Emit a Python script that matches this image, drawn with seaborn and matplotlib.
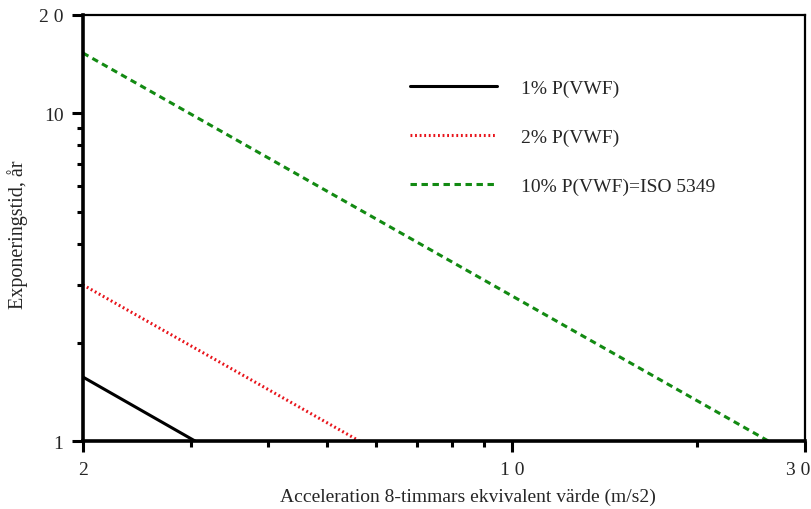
import seaborn as sns
import pandas as pd
import matplotlib.pyplot as plt
from matplotlib.ticker import FixedLocator, NullFormatter
from matplotlib.transforms import ScaledTranslation

# line end points
series = ['1% P(VWF)', '2% P(VWF)', '10% P(VWF)=ISO 5349']
x_1pct = [2.0, 3.05]
y_1pct = [1.57, 1.0]
x_2pct = [2.0, 5.65]
y_2pct = [3.0, 1.0]
x_10pct = [2.0, 26.2]
y_10pct = [15.3, 1.0]

x_ticks = [2, 10, 30]
x_ticklabels = ['2', '1 0', '3 0']
y_ticks = [1, 10, 20]
y_ticklabels = ['1', '10', '2 0']

df = pd.concat([
    pd.DataFrame({'acc': x_1pct, 'tid': y_1pct, 'serie': series[0]}),
    pd.DataFrame({'acc': x_2pct, 'tid': y_2pct, 'serie': series[1]}),
    pd.DataFrame({'acc': x_10pct, 'tid': y_10pct, 'serie': series[2]}),
])

sns.set_style('white')
plt.rcParams['font.family'] = ['Liberation Serif', 'DejaVu Serif']

fig = plt.figure(figsize=(8.12, 5.10), dpi=100)
ax = fig.add_axes([0.102, 0.133, 0.889, 0.836])

palette = {series[0]: 'black', series[1]: '#e8141b', series[2]: '#128a12'}
dashes = {series[0]: '', series[1]: (0.6, 0.9), series[2]: (2.1, 1.5)}
sns.lineplot(data=df, x='acc', y='tid', hue='serie', style='serie',
             palette=palette, dashes=dashes, linewidth=2.2, ax=ax, sort=False)

ax.set_xscale('log')
ax.set_yscale('log')
ax.set_xlim(2, 30)
ax.set_ylim(1, 20)

ax.xaxis.set_major_locator(FixedLocator(x_ticks))
ax.xaxis.set_minor_locator(FixedLocator([3, 4, 5, 6, 7, 8, 9, 20]))
ax.set_xticklabels(x_ticklabels)
ax.xaxis.set_minor_formatter(NullFormatter())
ax.yaxis.set_major_locator(FixedLocator(y_ticks))
ax.yaxis.set_minor_locator(FixedLocator([2, 3, 4, 5, 6, 7, 8, 9]))
ax.set_yticklabels(y_ticklabels)
ax.yaxis.set_minor_formatter(NullFormatter())

ax.tick_params(axis='both', which='major', direction='out', length=8, width=2.2,
               labelsize=14, color='black', pad=6, bottom=True, left=True)
ax.tick_params(axis='both', which='minor', direction='out', length=4, width=2.2,
               color='black', bottom=True, left=True)

# keep the last x label inside the figure
last = ax.get_xticklabels()[-1]
last.set_horizontalalignment('right')
last.set_transform(last.get_transform() + ScaledTranslation(4 / 72, 0, fig.dpi_scale_trans))

for side in ['left', 'bottom']:
    ax.spines[side].set_linewidth(2.6)
    ax.spines[side].set_color('black')
for side in ['top', 'right']:
    ax.spines[side].set_linewidth(1.6)
    ax.spines[side].set_color('black')

ax.set_xlabel('Acceleration 8-timmars ekvivalent värde (m/s2)', fontsize=14)
ax.set_ylabel('Exponeringstid, år', fontsize=14.5)
ax.xaxis.set_label_coords(0.533, -0.11)
ax.yaxis.set_label_coords(-0.076, 0.486)

ax.legend(title=None, frameon=False, loc='upper left', bbox_to_anchor=(0.453, 0.848),
          handlelength=4.5, handletextpad=1.2, labelspacing=1.6, fontsize=14,
          borderpad=0, borderaxespad=0)

fig.savefig('out.png', dpi=100)
